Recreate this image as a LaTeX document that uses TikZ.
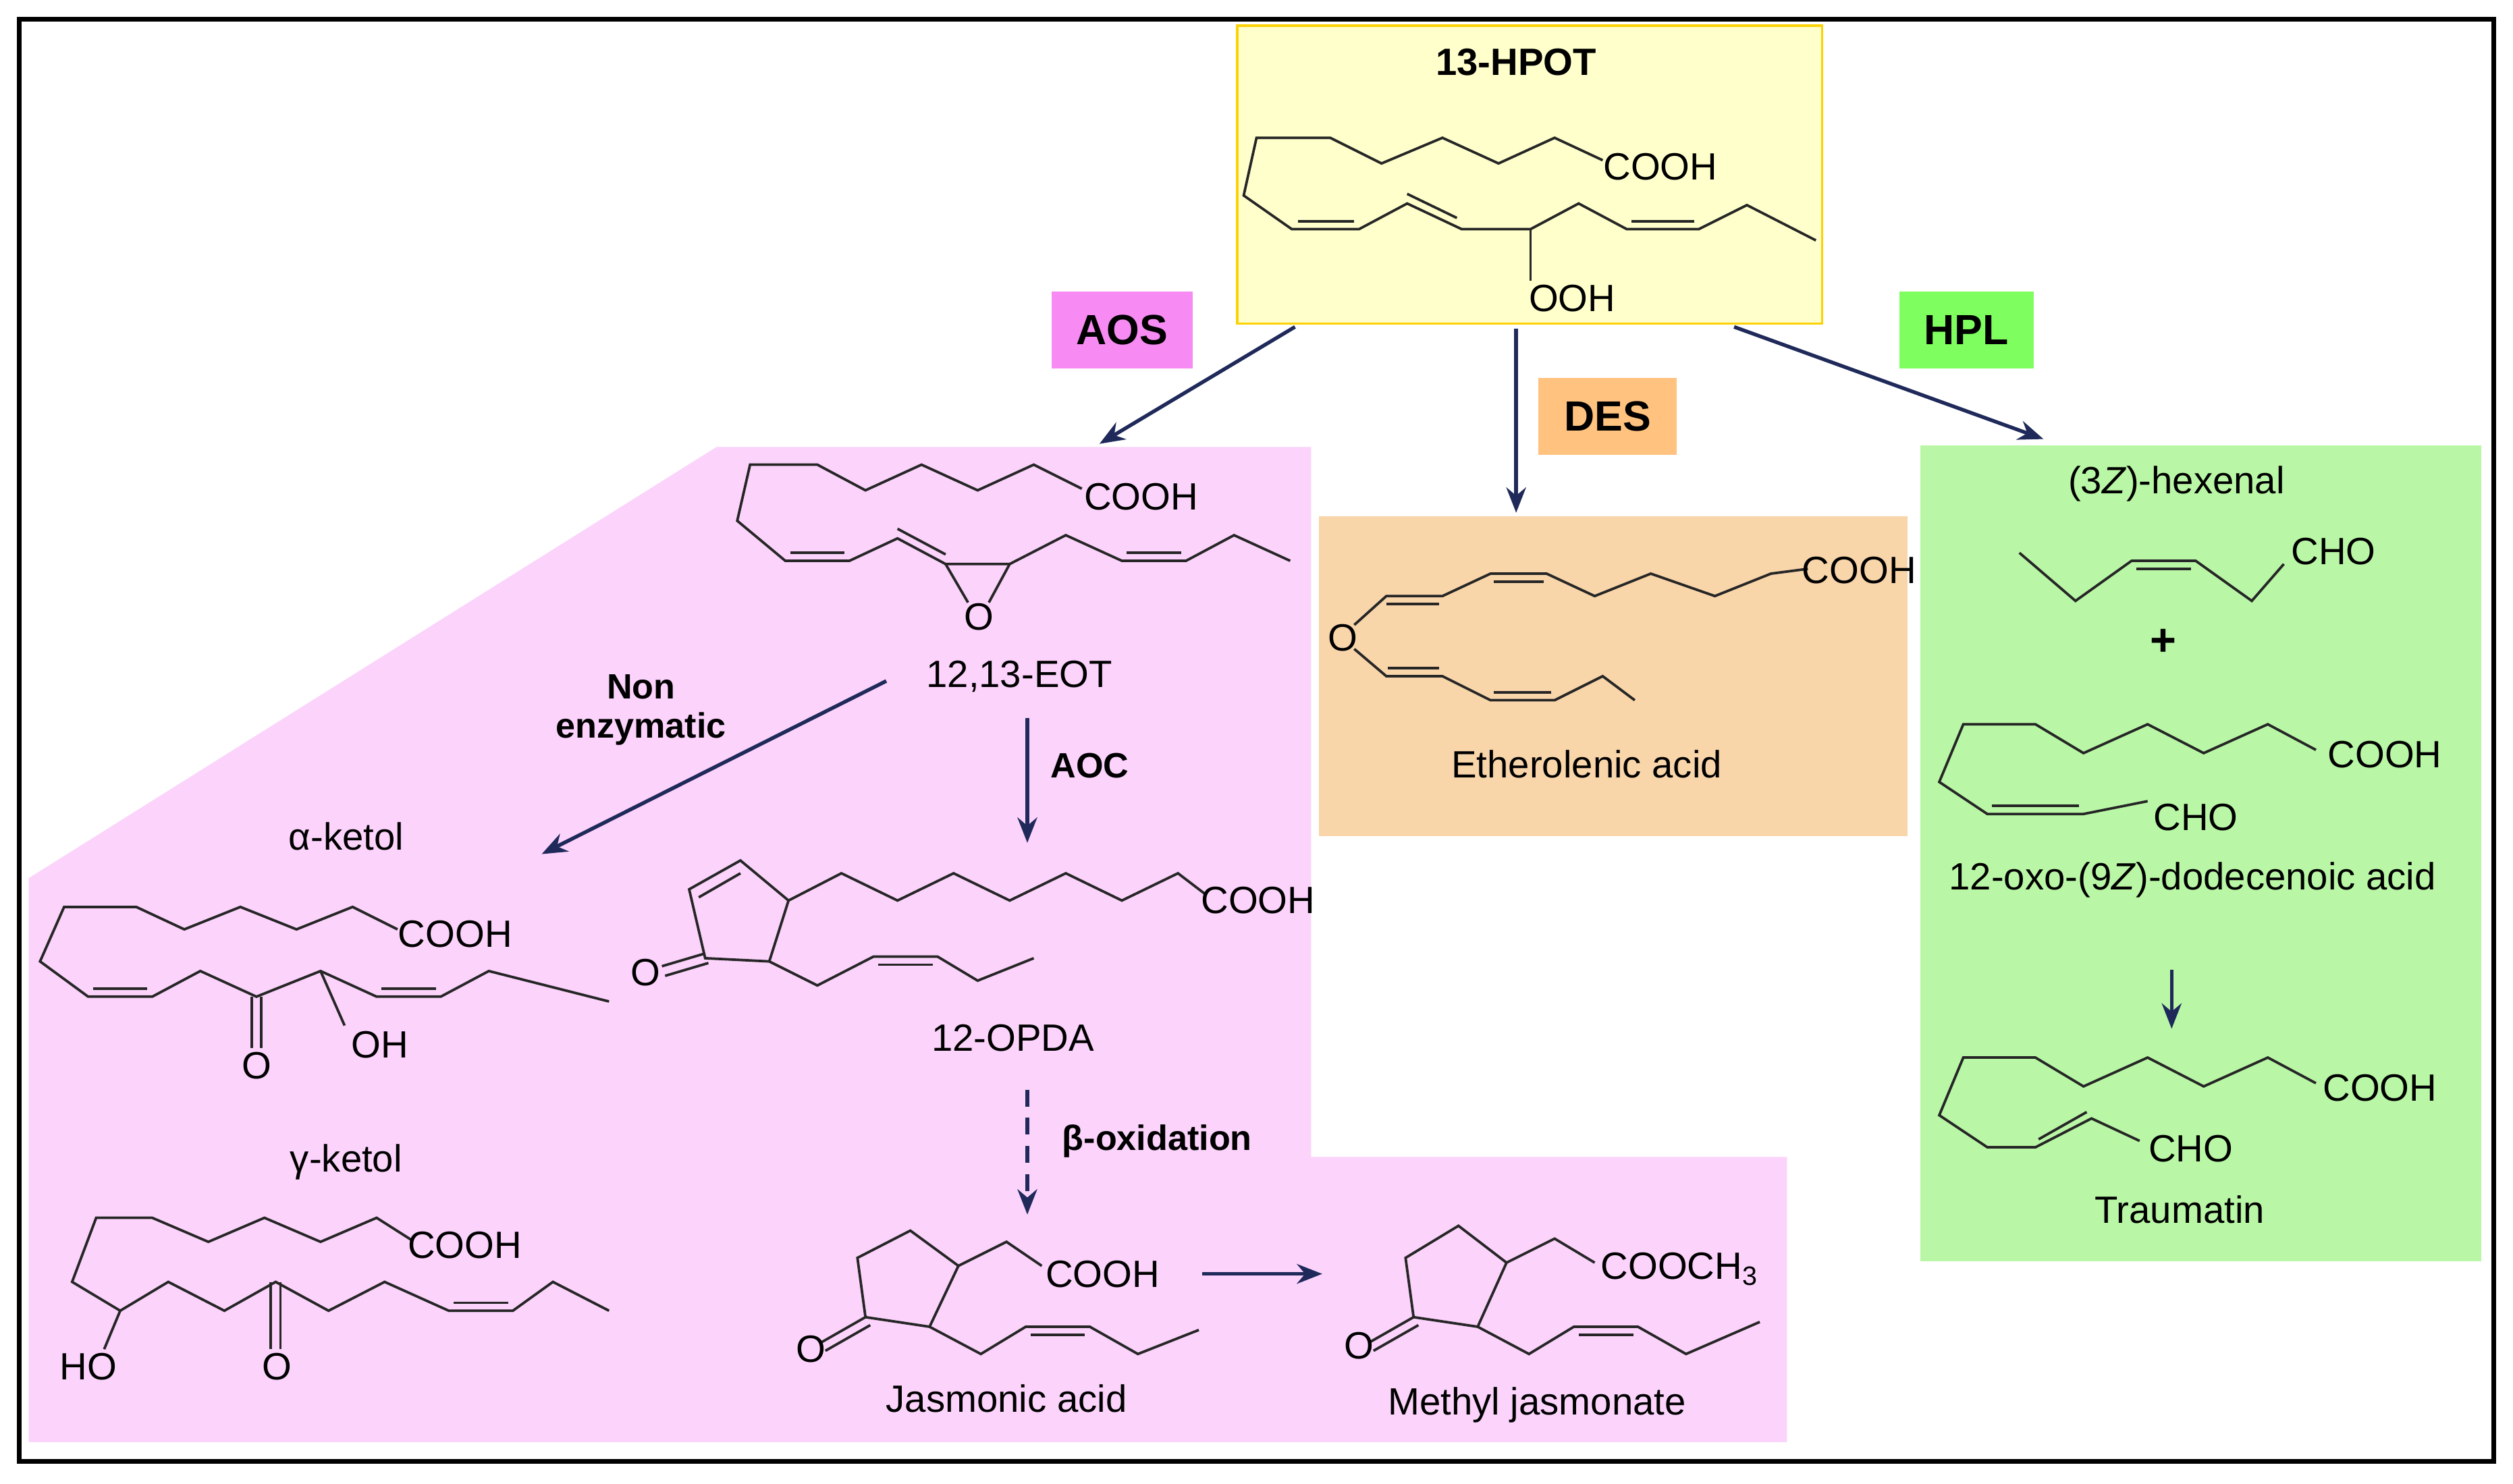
\documentclass[tikz,border=0pt]{standalone}
\usepackage{fontspec}
\setmainfont{Liberation Sans}
\usetikzlibrary{arrows.meta}
\definecolor{pinkbg}{HTML}{FBD3FB}
\definecolor{orbg}{HTML}{F9D5AA}
\definecolor{grbg}{HTML}{B9F7A6}
\definecolor{yelbg}{HTML}{FFFFCC}
\definecolor{aosc}{HTML}{F78BF3}
\definecolor{desc}{HTML}{FFC27F}
\definecolor{hplc}{HTML}{7FFF5F}
\definecolor{navy}{HTML}{1F2A5A}
\begin{document}
\begin{tikzpicture}[x=0.02cm,y=-0.02cm,
 bond/.style={line width=0.9pt,black!85},
 arr/.style={line width=1.3pt,navy,-{Stealth[length=9pt,width=7pt]}},
 lab/.style={font=\fontsize{13.5}{15}\selectfont,inner sep=1pt},
 blab/.style={font=\fontsize{12.5}{14}\selectfont\bfseries,inner sep=1pt,align=center},
 tag/.style={font=\fontsize{15}{17}\selectfont\bfseries,minimum height=0.96cm,inner sep=0pt}]
\useasboundingbox (0,0) rectangle (1568,926);
\fill[white] (0,0) rectangle (1568,926);
% backgrounds
\fill[pinkbg] (447,279)--(818,279)--(818,722)--(1115,722)--(1115,900)--(18,900)--(18,548)--cycle;
\fill[orbg] (823,322) rectangle (1190,522);
\fill[grbg] (1198,278) rectangle (1548,787);
\draw[fill=yelbg,draw=yellow!70!orange,line width=0.8pt] (772,16) rectangle (1137,202);
\draw[line width=1.5pt] (12,12) rectangle (1556,912);
% tags
\node[tag,fill=aosc,minimum width=1.76cm] (aos) at (700,206) {AOS};
\node[tag,fill=desc,minimum width=1.72cm] (des) at (1003,260) {DES};
\node[tag,fill=hplc,minimum width=1.68cm] (hpl) at (1227,206) {HPL};
% 13-HPOT
\node[blab,font=\fontsize{13.5}{15}\selectfont\bfseries] (hpot) at (946,39) {13-HPOT};
\draw[bond] (1000,100)--(970,86)--(935,102)--(900,86)--(862,102)--(830,86)--(784,86)--(776,122)--(806,143)--(848,143)--(878,127)--(912,143)--(955,143)--(985,127)--(1015,143)--(1060,143)--(1090,128)--(1133,150);
\draw[bond] (810,138)--(845,138);
\draw[bond] (878,121)--(909,136);
\draw[bond] (1018,138)--(1057,138);
\draw[bond] (955,143)--(955,175);
\node[lab] (cooh1) at (1036,104) {COOH};
\node[lab] (ooh1) at (981,186) {OOH};
% EOT
\draw[bond] (675,305)--(645,290)--(610,306)--(575,290)--(540,306)--(510,290)--(468,290)--(460,325)--(490,350)--(530,350)--(560,336)--(590,352)--(630,352)--(665,334)--(700,350)--(740,350)--(770,334)--(805,350);
\draw[bond] (493,345)--(527,345);
\draw[bond] (560,330)--(590,346);
\draw[bond] (703,345)--(737,345);
\draw[bond] (590,352)--(604,376);\draw[bond] (630,352)--(617,376);
\node[lab] (o1) at (611,385) {O};
\node[lab] (cooh2) at (712,310) {COOH};
\node[lab] (eot) at (636,422) {12,13-EOT};
\node[blab] (ne) at (400,443) {Non\\enzymatic};
\node[blab] (aoc) at (680,478) {AOC};
% alpha-ketol
\node[lab] (ak) at (216,522) {α-ketol};
\draw[bond] (248,580)--(220,566)--(185,580)--(150,566)--(115,580)--(85,566)--(40,566)--(25,600)--(55,622)--(95,622)--(125,606)--(160,622)--(200,606)--(235,622)--(275,622)--(305,606)--(380,625);
\draw[bond] (58,617)--(92,617);\draw[bond] (238,617)--(272,617);
\draw[bond] (157,622)--(157,654);\draw[bond] (163,622)--(163,654);
\draw[bond] (200,606)--(215,640);
\node[lab] (o2) at (160,665) {O};
\node[lab] (oh2) at (237,652) {OH};
\node[lab] (cooh3) at (284,583) {COOH};
% gamma-ketol
\node[lab] (gk) at (216,725) {γ-ketol};
\draw[bond] (257,774)--(235,760)--(200,775)--(165,760)--(130,775)--(95,760)--(60,760)--(45,800)--(75,818)--(105,800)--(140,818)--(172,800)--(205,818)--(240,800)--(280,818)--(320,818)--(345,800)--(380,818);
\draw[bond] (283,813)--(317,813);
\draw[bond] (75,818)--(65,842);
\draw[bond] (169,800)--(169,842);\draw[bond] (175,800)--(175,842);
\node[lab] (ho) at (55,853) {HO};
\node[lab] (o3) at (173,853) {O};
\node[lab] (cooh4) at (290,777) {COOH};
% 12-OPDA
\draw[bond] (430,555)--(462,537)--(492,562)--(480,600)--(440,598)--cycle;
\draw[bond] (436,560)--(462,545);
\draw[bond] (440,595)--(413,603);\draw[bond] (442,601)--(415,609);
\draw[bond] (492,562)--(525,545)--(560,562)--(595,545)--(630,562)--(665,545)--(700,562)--(735,545)--(752,558);
\draw[bond] (480,600)--(510,615)--(545,597)--(585,597)--(610,612)--(645,598);
\draw[bond] (548,602)--(582,602);
\node[lab] (o4) at (403,607) {O};
\node[lab] (cooh5) at (785,562) {COOH};
\node[lab] (opda) at (632,648) {12-OPDA};
\node[blab] (box) at (722,712) {β-oxidation};
% Jasmonic acid
\draw[bond] (535,785)--(568,768)--(598,790)--(580,828)--(540,822)--cycle;
\draw[bond] (540,822)--(512,838);\draw[bond] (543,827)--(515,843);
\draw[bond] (598,790)--(628,775)--(650,790);
\draw[bond] (580,828)--(612,845)--(640,828)--(680,828)--(710,845)--(748,830);
\draw[bond] (643,833)--(677,833);
\node[lab] (o5) at (506,842) {O};
\node[lab] (cooh6) at (688,795) {COOH};
\node[lab] (ja) at (628,873) {Jasmonic acid};
% Methyl jasmonate
\draw[bond] (877,785)--(910,765)--(940,788)--(922,828)--(882,822)--cycle;
\draw[bond] (882,822)--(854,838);\draw[bond] (885,827)--(857,843);
\draw[bond] (940,788)--(970,773)--(995,788);
\draw[bond] (922,828)--(954,845)--(982,828)--(1022,828)--(1052,845)--(1098,825);
\draw[bond] (985,833)--(1019,833);
\node[lab] (o6) at (848,840) {O};
\node[lab] (cooch3) at (1048,792) {COOCH\textsubscript{3}};
\node[lab] (mj) at (959,877) {Methyl jasmonate};
% Etherolenic acid
\draw[bond] (845,390)--(865,372)--(900,372)--(930,358)--(965,358)--(995,372)--(1030,358)--(1070,372)--(1105,358)--(1128,355);
\draw[bond] (865,377)--(898,377);\draw[bond] (932,363)--(963,363);
\draw[bond] (845,405)--(865,422)--(900,422)--(930,437)--(970,437)--(1000,422)--(1020,437);
\draw[bond] (866,417)--(898,417);\draw[bond] (932,432)--(968,432);
\node[lab] (o7) at (838,398) {O};
\node[lab] (cooh7) at (1160,356) {COOH};
\node[lab] (eth) at (990,477) {Etherolenic acid};
% hexenal
\node[lab] (hex) at (1358,302) {(3\textit{Z})-hexenal};
\draw[bond] (1260,345)--(1295,375)--(1330,350)--(1370,350)--(1405,375)--(1425,352);
\draw[bond] (1333,355)--(1367,355);
\node[lab] (cho1) at (1456,344) {CHO};
\node[font=\fontsize{16}{18}\selectfont\bfseries] (plus) at (1350,401) {+};
% 12-oxo
\draw[bond] (1445,468)--(1415,452)--(1375,470)--(1340,452)--(1300,470)--(1270,452)--(1225,452)--(1210,488)--(1240,508)--(1300,508)--(1340,500);
\draw[bond] (1243,503)--(1297,503);
\node[lab] (cooh8) at (1488,471) {COOH};
\node[lab] (cho2) at (1370,510) {CHO};
\node[lab] (oxo) at (1368,549) {12-oxo-(9\textit{Z})-dodecenoic acid};
% traumatin
\draw[bond] (1445,676)--(1415,660)--(1375,678)--(1340,660)--(1300,678)--(1270,660)--(1225,660)--(1210,696)--(1240,716)--(1270,716)--(1305,698)--(1335,712);
\draw[bond] (1272,711)--(1302,694);
\node[lab] (cooh9) at (1485,679) {COOH};
\node[lab] (cho3) at (1367,717) {CHO};
\node[lab] (tr) at (1360,755) {Traumatin};
% arrows
\coordinate (a1s) at (808,204); \coordinate (a1e) at (686,277);
\coordinate (a2s) at (946,205); \coordinate (a2e) at (946,320);
\coordinate (a3s) at (1082,204); \coordinate (a3e) at (1275,274);
\coordinate (a4s) at (553,425); \coordinate (a4e) at (338,533);
\coordinate (a5s) at (641,448); \coordinate (a5e) at (641,526);
\coordinate (a6s) at (641,680); \coordinate (a6e) at (641,758);
\coordinate (a7s) at (750,795); \coordinate (a7e) at (825,795);
\coordinate (a8s) at (1355,605); \coordinate (a8e) at (1355,642);
\draw[arr] (a1s)--(a1e);
\draw[arr] (a2s)--(a2e);
\draw[arr] (a3s)--(a3e);
\draw[arr] (a4s)--(a4e);
\draw[arr] (a5s)--(a5e);
\draw[arr,dash pattern=on 6pt off 4pt] (a6s)--(a6e);
\draw[arr] (a7s)--(a7e);
\draw[arr] (a8s)--(a8e);
\end{tikzpicture}
\end{document}
